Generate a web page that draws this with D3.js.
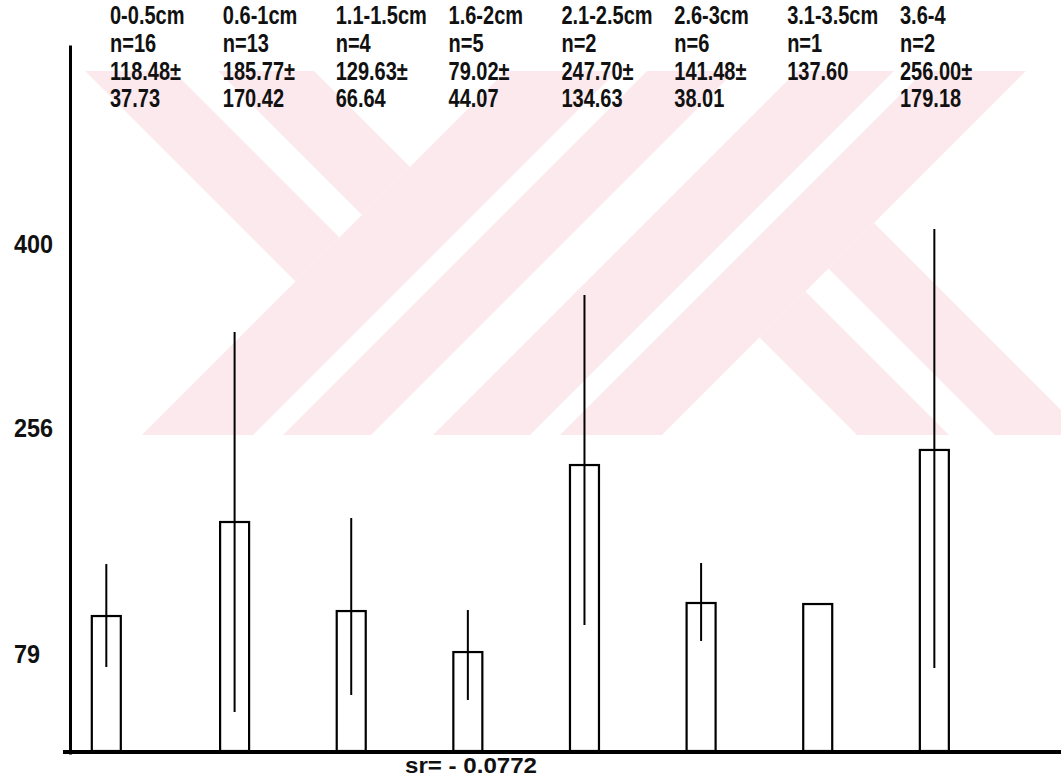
<!DOCTYPE html>
<html>
<head>
<meta charset="utf-8">
<script src="https://cdn.jsdelivr.net/npm/d3@7"></script>
<style>
  body { margin: 0; background: #fff; }
  svg text { font-family: "Liberation Sans", Arial, sans-serif; font-weight: bold; fill: #111; }
</style>
</head>
<body>
<div id="chart"></div>
<script>
// size classes and the numbers printed above the bars
var classes = ["0-0.5cm", "0.6-1cm", "1.1-1.5cm", "1.6-2cm", "2.1-2.5cm", "2.6-3cm", "3.1-3.5cm", "3.6-4"];
var classMid = [0.25, 0.8, 1.3, 1.8, 2.3, 2.8, 3.3, 3.8];
var counts = [16, 13, 4, 5, 2, 6, 1, 2];
var means = [118.48, 185.77, 129.63, 79.02, 247.70, 141.48, 137.60, 256.00];
var sds = [37.73, 170.42, 66.64, 44.07, 134.63, 38.01, null, 179.18];

// bars and whiskers as they are drawn (the hand drawing
// does not follow the printed means exactly)
var barTop = [108, 181.6, 111.9, 79.8, 226.2, 118.2, 117.4, 238];
var whiskerHigh = [148.7, 330.3, 184.7, 112.7, 359.3, 149.5, null, 411];
var whiskerLow = [68.1, 32.9, 46.2, 42.3, 101, 88.5, null, 67.3];

var yTicks = [79, 256, 400];
var corrText = "sr= - 0.0772";

var width = 1061, height = 780;
var svg = d3.select("#chart").append("svg").attr("width", width).attr("height", height);

var x = d3.scaleLinear().domain([0, 4]).range([48, 981]);
var y = d3.scaleLinear().domain([0, 555]).range([754, 45]);
var colX = d3.scalePoint().domain(classes).range([110, 900]);

// narrow bold look of the typed labels
var squeeze = 0.8;

// pale red watermark behind the upper half (bands at 45 degrees, c = x - y, s = x + y)
svg.append("clipPath").attr("id", "wmclip")
   .append("rect").attr("x", 0).attr("y", 71).attr("width", width).attr("height", 364);
var big = 4000;
var bands = [
  [14, 102, -big, 577], [147, 243, -big, 577],
  [-big, big, 577, 688], [-big, big, 718, 806],
  [-big, big, 868, 965], [-big, big, 995, 1097],
  [422, 514, 1097, big], [560, 651, 1097, big]
];
svg.append("g").attr("clip-path", "url(#wmclip)")
  .selectAll("polygon").data(bands).enter().append("polygon")
  .attr("fill", "#fce9ed")
  .attr("points", function(b) {
      var pts = [[b[0], b[2]], [b[1], b[2]], [b[1], b[3]], [b[0], b[3]]];
      return pts.map(function(p) { return ((p[1] + p[0]) / 2) + "," + ((p[1] - p[0]) / 2); }).join(" ");
  });

// y axis, labels only
var yAxis = svg.append("g")
   .attr("transform", "translate(70,0)")
   .call(d3.axisLeft(y).tickValues(yTicks).tickSize(0).tickSizeOuter(0));
yAxis.select(".domain").attr("stroke", "#000").attr("stroke-width", 3);
yAxis.selectAll("text")
   .attr("x", -56 / 0.9).attr("dy", "0.36em").attr("text-anchor", "start")
   .attr("transform", "scale(0.9,1)")
   .style("font-size", "26px").style("fill", "#111");

// x axis baseline
svg.append("line")
   .attr("x1", 63).attr("x2", width)
   .attr("y1", y(0) - 2).attr("y2", y(0) - 2)
   .attr("stroke", "#000").attr("stroke-width", 4);

var idx = d3.range(classes.length);

svg.selectAll(".bar").data(idx).enter().append("rect")
   .attr("class", "bar")
   .attr("x", function(i) { return x(classMid[i]) - 14.5; })
   .attr("width", 29)
   .attr("y", function(i) { return y(barTop[i]); })
   .attr("height", function(i) { return y(0) - 3 - y(barTop[i]); })
   .attr("fill", "none").attr("stroke", "#000").attr("stroke-width", 2.2);

svg.selectAll(".whisker").data(idx.filter(function(i) { return whiskerHigh[i] != null; }))
   .enter().append("line")
   .attr("class", "whisker")
   .attr("x1", function(i) { return x(classMid[i]); })
   .attr("x2", function(i) { return x(classMid[i]); })
   .attr("y1", function(i) { return y(whiskerHigh[i]); })
   .attr("y2", function(i) { return y(whiskerLow[i]); })
   .attr("stroke", "#000").attr("stroke-width", 2);

// printed summary above each bar
var rows = [
  function(i) { return classes[i]; },
  function(i) { return "n=" + counts[i]; },
  function(i) { return means[i].toFixed(2) + (sds[i] != null ? "±" : ""); },
  function(i) { return sds[i] != null ? sds[i].toFixed(2) : ""; }
];
var rowY = [24, 52, 80, 107];
rows.forEach(function(fn, r) {
  svg.selectAll(".row" + r).data(idx).enter().append("text")
     .attr("class", "row" + r)
     .attr("transform", function(i) { return "translate(" + colX(classes[i]) + "," + rowY[r] + ") scale(" + squeeze + ",1)"; })
     .style("font-size", "25px")
     .text(fn);
});

svg.append("text")
   .attr("x", 405).attr("y", 773)
   .attr("textLength", 132).attr("lengthAdjust", "spacingAndGlyphs")
   .style("font-size", "22px")
   .text(corrText);
</script>
</body>
</html>
